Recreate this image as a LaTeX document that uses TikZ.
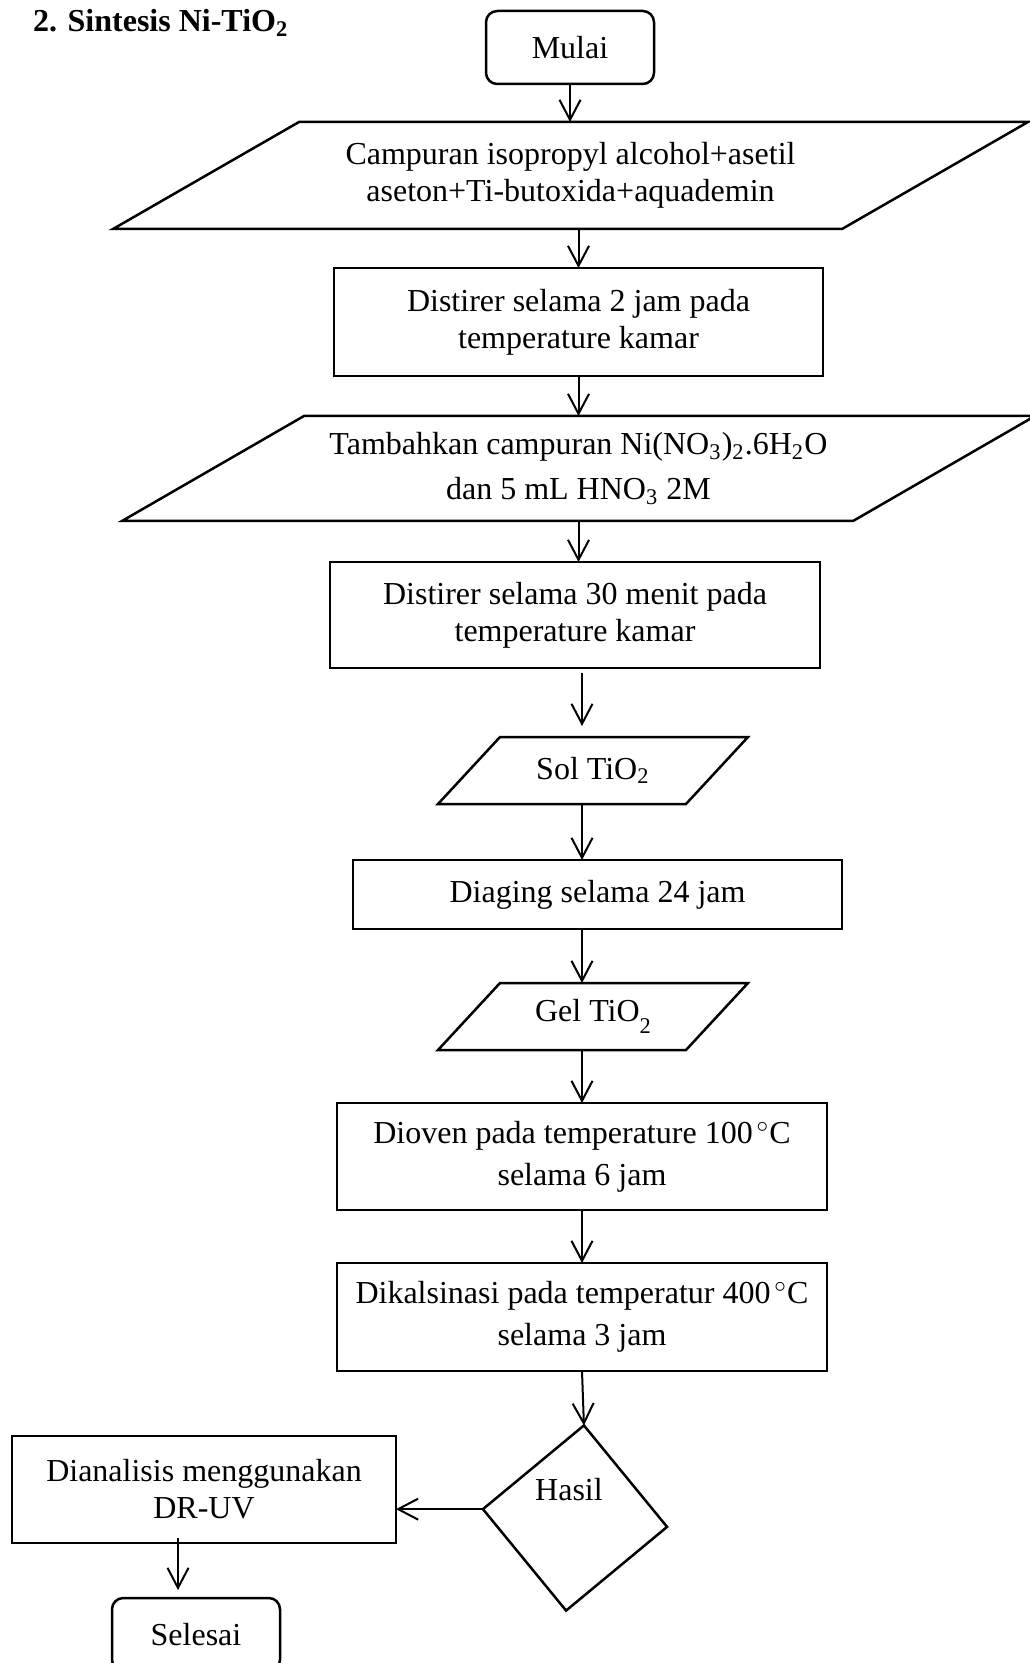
\documentclass[tikz,border=0pt]{standalone}
\usepackage{fontspec}
\setmainfont{Liberation Serif}
\usetikzlibrary{shapes.geometric,arrows.meta}
% slanted input/output outline round a named node: #1 node, #2 slant
\newcommand\jajar[2]{\draw[line width=1pt] ([xshift=#2]#1.north west) -- (#1.north east) -- ([xshift=-#2]#1.south east) -- (#1.south west) -- cycle;}
\begin{document}
\begin{tikzpicture}[x=0.4pt,y=-0.4pt,
  every node/.style={font=\fontsize{12.8}{14.8}\selectfont,align=center,inner sep=0pt,outer sep=0pt},
  term/.style={draw,line width=1pt,rounded corners=4.5pt,minimum width=67.2pt,minimum height=29.2pt},
  proc/.style={draw,line width=1pt,minimum width=196pt},
  io/.style={rectangle},
  cek/.style={draw,line width=1pt,diamond,rotate=-5.5,minimum width=74pt,minimum height=74.4pt},
  arr/.style={line width=0.8pt,-{Straight Barb[length=8pt,width=8.4pt]}}]
\useasboundingbox (0,0) rectangle (1030,1663);
% title
\node[font=\fontsize{12.8}{14.8}\selectfont\bfseries,anchor=base west] (judul) at (33,32) {2. Sintesis Ni-TiO\textsubscript{2}};
% main column
\node[term] (mulai) at (570,47.5) {Mulai};
\node[io,minimum width=366pt,minimum height=42.8pt] (campur) at (570.5,175.5) {Campuran isopropyl alcohol+asetil\\aseton+Ti-butoxida+aquademin};
\jajar{campur}{74.4pt}
\node[proc,minimum width=195.6pt,minimum height=43.2pt] (aduk1) at (578.5,322) {Distirer selama 2 jam pada\\temperature kamar};
\node[io,font=\fontsize{12.8}{18}\selectfont,minimum width=365.2pt,minimum height=42pt] (tambah) at (578.5,468.5) {Tambahkan campuran Ni(NO\textsubscript{3})\textsubscript{2}.6H\textsubscript{2}O\\dan 5 mL HNO\textsubscript{3} 2M};
\jajar{tambah}{72.8pt}
\node[proc,minimum height=42.4pt] (aduk2) at (575,615) {Distirer selama 30 menit pada\\temperature kamar};
\node[io,minimum width=124pt,minimum height=26.8pt] (sol) at (593,770.5) {Sol TiO\textsubscript{2}};
\jajar{sol}{24.8pt}
\node[proc,minimum width=195.6pt,minimum height=27.6pt] (aging) at (597.5,894.5) {Diaging selama 24 jam};
\node[io,minimum width=124pt,minimum height=26.8pt] (gel) at (593,1016.5) {Gel TiO\raisebox{-5pt}{\fontsize{9}{9}\selectfont 2}};
\jajar{gel}{24.8pt}
\node[proc,font=\fontsize{12.8}{16.8}\selectfont,minimum height=42.8pt] (oven) at (582,1156.5) {Dioven pada temperature 100$^{\,\circ}$C\\selama 6 jam};
\node[proc,font=\fontsize{12.8}{16.8}\selectfont,minimum height=43.2pt] (kalsin) at (582,1317) {Dikalsinasi pada temperatur 400$^{\,\circ}$C\\selama 3 jam};
% decision and end
\node[cek] (hasil) at (575,1518) {};
\node (hasilteks) at (569,1490) {Hasil};
\node[proc,minimum width=153.6pt,minimum height=42.8pt] (analisis) at (204,1489.5) {Dianalisis menggunakan\\DR-UV};
\node[term] (selesai) at (196,1634.5) {Selesai};
% connectors
\draw[arr] (mulai.south) -- (mulai.south |- campur.north);
\draw[arr] (aduk1 |- campur.south) -- (aduk1.north);
\draw[arr] (aduk1.south) -- (aduk1.south |- tambah.north);
\draw[arr] (aduk1 |- tambah.south) -- (aduk1 |- aduk2.north);
\draw[arr,shorten <=2pt,shorten >=4.4pt] (oven |- aduk2.south) -- (oven |- sol.north);
\draw[arr] (oven |- sol.south) -- (oven |- aging.north);
\draw[arr] (oven |- aging.south) -- (oven |- gel.north);
\draw[arr] (oven |- gel.south) -- (oven.north);
\draw[arr] (oven.south) -- (kalsin.north);
\draw[arr] (kalsin.south) -- (hasil.north);
\draw[arr] (hasil.west) -- (analisis.east |- hasil.west);
\draw[arr,shorten <=-2pt,shorten >=3.2pt] ([xshift=-10.4pt]analisis.south) -- ([xshift=-10.4pt]analisis.south |- selesai.north);
\end{tikzpicture}
\end{document}
